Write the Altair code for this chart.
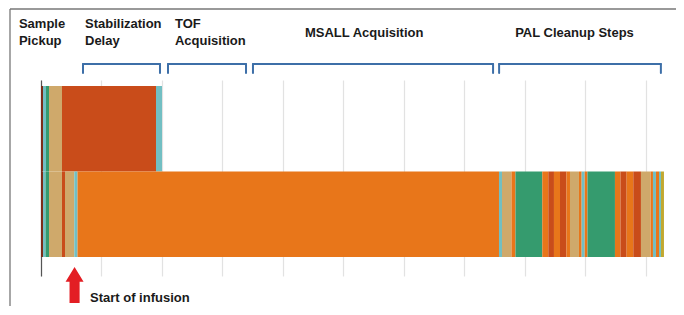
import altair as alt
import pandas as pd

# ---- data (x in grid-step units; one gridline per unit) ----
color_names = ["brown", "teal", "green", "tan", "rust", "orange", "olive"]
color_values = ["#7b2d18", "#72bfc3", "#359b6e", "#cfa96b", "#c94c1a", "#e8761a", "#c2a830"]

top_bounds = [0, 0.066, 0.165, 0.265, 0.694, 3.803, 4.001]
top_colors = ["brown", "teal", "green", "tan", "rust", "teal"]

bottom_bounds = [0, 0.066, 0.149, 0.265, 0.694, 0.794, 1.101, 1.207, 15.146, 15.245,
                 15.559, 15.691, 16.578, 16.776, 16.964, 17.163, 17.378, 17.494, 17.791,
                 17.880, 17.980, 18.072, 18.981, 19.163, 19.368, 19.587, 19.841, 20.162,
                 20.238, 20.337, 20.437, 20.503, 20.602]
bottom_colors = ["brown", "teal", "green", "tan", "rust", "tan", "teal", "orange", "teal",
                 "tan", "orange", "green", "orange", "rust", "orange", "rust", "orange",
                 "tan", "orange", "teal", "orange", "green", "orange", "rust", "orange",
                 "rust", "tan", "orange", "teal", "orange", "teal", "olive"]

rows = [("top", 1.0, 2.0, top_bounds, top_colors),
        ("bottom", 0.0, 1.0, bottom_bounds, bottom_colors)]

header_labels = ["Sample\nPickup", "Stabilization\nDelay", "TOF\nAcquisition",
                 "MSALL Acquisition", "PAL Cleanup Steps"]
header_x = [-0.73, 1.455, 4.43, 8.73, 15.68]
header_multi = [True, True, True, False, False]

bracket_start = [1.389, 4.20, 7.01, 15.15]
bracket_end = [3.935, 6.78, 14.95, 20.50]

arrow_x = [1.11]
note_text = ["Start of infusion"]
note_x = [1.62]

# ---- build tables ----
seg = []
for name, y0, y1, b, c in rows:
    for i, col in enumerate(c):
        seg.append({"row": name, "start": b[i], "end": b[i + 1], "y0": y0, "y1": y1, "kind": col})
seg_df = pd.DataFrame(seg)

hdr_multi = pd.DataFrame({"label": [l for l, m in zip(header_labels, header_multi) if m],
                          "x": [x for x, m in zip(header_x, header_multi) if m]})
hdr_single = pd.DataFrame({"label": [l for l, m in zip(header_labels, header_multi) if not m],
                           "x": [x for x, m in zip(header_x, header_multi) if not m]})
br_df = pd.DataFrame({"start": bracket_start, "end": bracket_end})
arrow_df = pd.DataFrame({"x": arrow_x})
note_df = pd.DataFrame({"label": note_text, "x": note_x})

FONT = "Liberation Sans"
xscale = alt.Scale(domain=[0, 21], nice=False, zero=False)

bars = alt.Chart(seg_df).mark_rect(strokeWidth=0).encode(
    x=alt.X("start:Q", scale=xscale,
            axis=alt.Axis(values=list(range(22)), grid=True, gridColor="#e2e2e2", gridWidth=1.2,
                          labels=False, ticks=False, domain=False, title=None)),
    x2="end:Q",
    y=alt.Y("y0:Q", scale=alt.Scale(domain=[-0.222, 2.07], nice=False, zero=False),
            axis=alt.Axis(grid=False, labels=False, ticks=False, domain=True,
                          domainColor="#555555", domainWidth=1.2, title=None)),
    y2="y1:Q",
    color=alt.Color("kind:N", scale=alt.Scale(domain=color_names, range=color_values), legend=None),
)

br_line = alt.Chart(br_df).mark_rule(color="#3d6fa8", strokeWidth=2, strokeCap="round").encode(
    x="start:Q", x2="end:Q", y=alt.value(-16))
br_left = alt.Chart(br_df).mark_rule(color="#3d6fa8", strokeWidth=2, strokeCap="round").encode(
    x="start:Q", y=alt.value(-16), y2=alt.value(-7))
br_right = alt.Chart(br_df).mark_rule(color="#3d6fa8", strokeWidth=2, strokeCap="round").encode(
    x="end:Q", y=alt.value(-16), y2=alt.value(-7))

hdr1 = alt.Chart(hdr_multi).mark_text(font=FONT, fontWeight="bold", fontSize=13, align="left",
                                      baseline="alphabetic", lineBreak="\n", lineHeight=17,
                                      color="#1a1a1a").encode(
    x="x:Q", y=alt.value(-52), text="label:N")
hdr2 = alt.Chart(hdr_single).mark_text(font=FONT, fontWeight="bold", fontSize=13, align="left",
                                       baseline="alphabetic", color="#1a1a1a").encode(
    x="x:Q", y=alt.value(-43), text="label:N")

arrow_path = "M0,-1 L0.5,-0.18 L0.28,-0.18 L0.28,1 L-0.28,1 L-0.28,-0.18 L-0.5,-0.18 Z"
arrow = alt.Chart(arrow_df).mark_point(shape=arrow_path, size=1296, filled=True, opacity=1,
                                       color="#e31e24", strokeWidth=0).encode(
    x="x:Q", y=alt.value(205))

note = alt.Chart(note_df).mark_text(font=FONT, fontWeight="bold", fontSize=13, align="left",
                                    baseline="alphabetic", color="#1a1a1a").encode(
    x="x:Q", y=alt.value(222), text="label:N")

frame_left = alt.Chart(arrow_df).mark_rule(color="#777777", strokeWidth=1.3).encode(
    x=alt.value(-31), y=alt.value(-71), y2=alt.value(226))
frame_top = alt.Chart(arrow_df).mark_rule(color="#777777", strokeWidth=1.3).encode(
    x=alt.value(-31), x2=alt.value(635), y=alt.value(-71))

chart = alt.layer(bars, br_line, br_left, br_right, hdr1, hdr2, arrow, note,
                  frame_left, frame_top).properties(
    width=635, height=196,
    autosize=alt.AutoSizeParams(type="none"),
    padding={"left": 33, "top": 72, "right": 0, "bottom": 30},
).configure_view(strokeWidth=0)

chart.save("out.html", embed_options={"renderer": "svg", "actions": False})
